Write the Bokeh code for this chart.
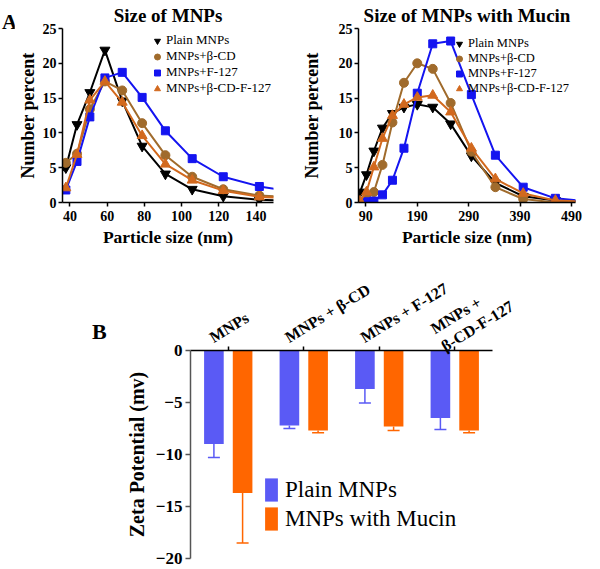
from bokeh.plotting import figure
from bokeh.models import (Range1d, FixedTicker, Legend, LegendItem, Div, LinearAxis,
                          ColumnDataSource, Whisker, TeeHead)
from bokeh.transform import dodge
from bokeh.layouts import column, row
from bokeh.embed import file_html
from bokeh.resources import INLINE

FONT = "Liberation Serif"

# ---------------- data: panel A (size distributions) ----------------
series_names = ["Plain MNPs", "MNPs+β-CD", "MNPs+F-127", "MNPs+β-CD-F-127"]

size_a = [32.6, 37.8, 43.8, 50.7, 58.8, 68.1, 78.8, 91.3, 105.7, 122.4, 141.8, 164.2]
plain_a = [3.8, 5.0, 11.2, 15.8, 21.9, 14.6, 8.1, 4.1, 1.9, 0.9, 0.4, 0.2]
bcd_a = [5.3, 5.7, 7.0, 13.4, 17.4, 16.1, 11.4, 6.8, 3.7, 1.9, 1.0, 0.7]
f127_a = [1.0, 1.8, 5.9, 12.3, 17.9, 18.7, 15.1, 10.3, 6.3, 3.7, 2.3, 1.4]
bcdf_a = [1.5, 2.1, 6.9, 14.7, 17.4, 14.4, 9.6, 5.5, 3.2, 1.7, 0.8, 0.6]
xticks_a = [40, 60, 80, 100, 120, 140]

size_b = [68.1, 78.8, 91.3, 105.7, 122.4, 141.8, 164.2, 190.1, 220.2, 255.0, 295.3, 342.0, 396.1, 458.7, 531.2]
plain_b = [0.3, 1.5, 4.0, 7.4, 10.7, 12.8, 13.7, 14.1, 13.7, 11.3, 6.7, 2.8, 0.9, 0.3, 0.1]
bcd_b = [0.0, 0.1, 0.6, 1.5, 5.4, 11.5, 17.2, 20.0, 19.2, 14.3, 7.3, 2.2, 0.5, 0.0, 0.0]
f127_b = [0.0, 0.0, 0.1, 0.2, 1.1, 3.2, 7.8, 15.7, 22.8, 23.2, 15.5, 6.8, 2.2, 0.6, 0.1]
bcdf_b = [0.0, 0.2, 1.5, 5.1, 9.2, 12.5, 14.1, 15.1, 15.4, 13.0, 7.8, 3.4, 1.3, 0.3, 0.1]
xticks_b = [90, 190, 290, 390, 490]

yticks_a = [0, 5, 10, 15, 20, 25]

# ---------------- data: panel B (zeta potential) ----------------
cats = ["MNPs", "MNPs + β-CD", "MNPs + F-127", "MNPs + β-CD-F-127"]
cat_labels = ["MNPs", "MNPs + β-CD", "MNPs + F-127", "MNPs +\nβ-CD-F-127"]
zeta_plain = [-9.0, -7.2, -3.7, -6.5]
zeta_plain_err = [1.3, 0.3, 1.35, 1.1]
zeta_mucin = [-13.7, -7.7, -7.3, -7.7]
zeta_mucin_err = [4.8, 0.2, 0.4, 0.2]
yticks_z = [0, -5, -10, -15, -20]

# ---------------- styles ----------------
COLORS = ["#000000", "#A06B2C", "#1414F0", "#D2691E"]
MARKERS = ["inverted_triangle", "circle", "square", "triangle"]
MSIZES = [10, 9, 8, 10]
BAR_BLUE = "#5A5AF5"
BAR_ORANGE = "#FF6600"


def style_axes(ax, tick_size, label_size, color="black", tick_out=4):
    ax.axis_line_width = 1.5
    ax.axis_line_color = color
    ax.major_tick_line_width = 1.5
    ax.major_tick_line_color = color
    ax.major_tick_out = tick_out
    ax.major_tick_in = 0
    ax.minor_tick_line_color = None
    ax.major_label_text_font = FONT
    ax.major_label_text_font_style = "bold"
    ax.major_label_text_font_size = tick_size
    ax.major_label_text_color = "black"
    ax.axis_label_text_font = FONT
    ax.axis_label_text_font_style = "bold"
    ax.axis_label_text_font_size = label_size
    ax.axis_label_text_color = "black"


def size_panel(title, sizes, ys, xr, xticks, width, mbl, mbr, y_label_standoff,
               legend_loc, legend_font):
    p = figure(width=width, height=250, x_range=Range1d(*xr), y_range=Range1d(0, 25),
               output_backend="svg", toolbar_location=None,
               min_border_left=mbl, min_border_right=mbr,
               min_border_top=28, min_border_bottom=48)
    p.outline_line_color = None
    p.grid.visible = False
    p.title.text = title
    p.title.align = "center"
    p.title.text_font = FONT
    p.title.text_font_style = "bold"
    p.title.text_font_size = "19px"
    p.title.text_color = "black"
    p.title.standoff = 5
    p.xaxis.ticker = FixedTicker(ticks=xticks)
    p.yaxis.ticker = FixedTicker(ticks=yticks_a)
    p.xaxis.axis_label = "Particle size (nm)"
    p.yaxis.axis_label = "Number percent"
    style_axes(p.xaxis[0], "14px", "17.5px")
    style_axes(p.yaxis[0], "14px", "18px")
    p.xaxis.major_label_standoff = 4
    p.xaxis.axis_label_standoff = 3
    p.yaxis.major_label_standoff = 2
    p.yaxis.axis_label_standoff = y_label_standoff

    items = []
    for name, y, c, m, s in zip(series_names, ys, COLORS, MARKERS, MSIZES):
        p.line(sizes, y, line_color=c, line_width=2)
        r = p.scatter(sizes, y, marker=m, size=s, fill_color=c, line_color=c)
        items.append(LegendItem(label=name, renderers=[r]))
    lg = Legend(items=items, location=legend_loc, glyph_width=16, glyph_height=15,
                label_height=15, spacing=0, padding=0, margin=0,
                label_standoff=1, border_line_color=None, background_fill_alpha=0,
                label_text_font=FONT, label_text_font_size=legend_font,
                label_text_color="black")
    p.add_layout(lg)
    return p


def letter_div(letter, width, height, left, top, size):
    html = ('<div style="position:relative; left:%dpx; top:%dpx; font-family:\'%s\'; '
            'font-weight:bold; font-size:%s; color:black; line-height:normal;">%s</div>'
            % (left, top, FONT, size, letter))
    return Div(text=html, width=width, height=height, margin=0,
               styles={"overflow": "visible"})


divA = letter_div("A", 14, 250, 2, 10, "21px")

p1 = size_panel("Size of MNPs", size_a, [plain_a, bcd_a, f127_a, bcdf_a], (36.0, 149.4),
                xticks_a, 284, 42, 25, 2, (87, 106), "13px")

p2 = size_panel("Size of MNPs with Mucin", size_b, [plain_b, bcd_b, f127_b, bcdf_b],
                (75.8, 497.8), xticks_b, 302, 60, 25, 14, (93, 106), "12.5px")

# ---------------- panel B ----------------
ncat = len(cats)
xpos = [i + 0.5 for i in range(ncat)]   # category centres on a unit-spaced axis
src = ColumnDataSource(dict(
    x=xpos, cat=cats,
    plain=zeta_plain, plain_lo=[v - e for v, e in zip(zeta_plain, zeta_plain_err)],
    mucin=zeta_mucin, mucin_lo=[v - e for v, e in zip(zeta_mucin, zeta_mucin_err)],
))

p3 = figure(width=490, height=319, x_range=Range1d(0, ncat), y_range=Range1d(-20, 0),
            x_axis_location="above", output_backend="svg", toolbar_location=None,
            min_border_left=80, min_border_right=108, min_border_top=100,
            min_border_bottom=11)
p3.outline_line_color = None
p3.grid.visible = False

off = 0.19
bw = 0.26
rb = p3.vbar(x=dodge("x", -off), top="plain", bottom=0, width=bw,
             source=src, fill_color=BAR_BLUE, line_color=None)
ro = p3.vbar(x=dodge("x", off), top="mucin", bottom=0, width=bw,
             source=src, fill_color=BAR_ORANGE, line_color=None)

for base_off, up, lo, col in [(-off, "plain", "plain_lo", BAR_BLUE),
                              (off, "mucin", "mucin_lo", BAR_ORANGE)]:
    w = Whisker(base=dodge("x", base_off), upper=up, lower=lo,
                source=src, upper_head=None,
                lower_head=TeeHead(size=12, line_color=col, line_width=1.5),
                line_color=col, line_width=1.5, level="overlay")
    p3.add_layout(w)

# top axis: line and ticks at category centres (labels drawn by the next axis)
xa = p3.xaxis[0]
xa.ticker = FixedTicker(ticks=xpos)
style_axes(xa, "0px", "16px")
xa.major_label_standoff = 0
xa.major_label_text_color = None

# label axis: same spacing, labels start a little left of each tick
shift = 0.23
p3.extra_x_ranges = {"lab": Range1d(start=shift, end=ncat + shift)}
lab_axis = LinearAxis(x_range_name="lab", ticker=FixedTicker(ticks=xpos),
                      major_label_overrides=dict(zip(xpos, cat_labels)))
style_axes(lab_axis, "16px", "16px", tick_out=0)
lab_axis.axis_line_color = None
lab_axis.major_tick_line_color = None
lab_axis.major_label_orientation = 0.55
lab_axis.major_label_standoff = 8
p3.add_layout(lab_axis, "above")

ya = p3.yaxis[0]
p3.yaxis.ticker = FixedTicker(ticks=yticks_z)
p3.yaxis.axis_label = "Zeta Potential (mv)"
style_axes(ya, "17px", "20px", color="#555555", tick_out=5)
ya.major_label_standoff = 3
ya.axis_label_standoff = 5

lg3 = Legend(items=[LegendItem(label="Plain MNPs", renderers=[rb]),
                    LegendItem(label="MNPs with Mucin", renderers=[ro])],
             location=(73, 25), glyph_width=16, glyph_height=29, label_height=29,
             spacing=0, padding=0, margin=0, label_standoff=6,
             border_line_color=None, background_fill_alpha=0,
             label_text_font=FONT, label_text_font_size="23px", label_text_color="black")
p3.add_layout(lg3)

divB = letter_div("B", 110, 319, 92, 69, "22px")

layout = column(row(divA, p1, p2), row(divB, p3))
open("out.html", "w").write(file_html(layout, INLINE))
